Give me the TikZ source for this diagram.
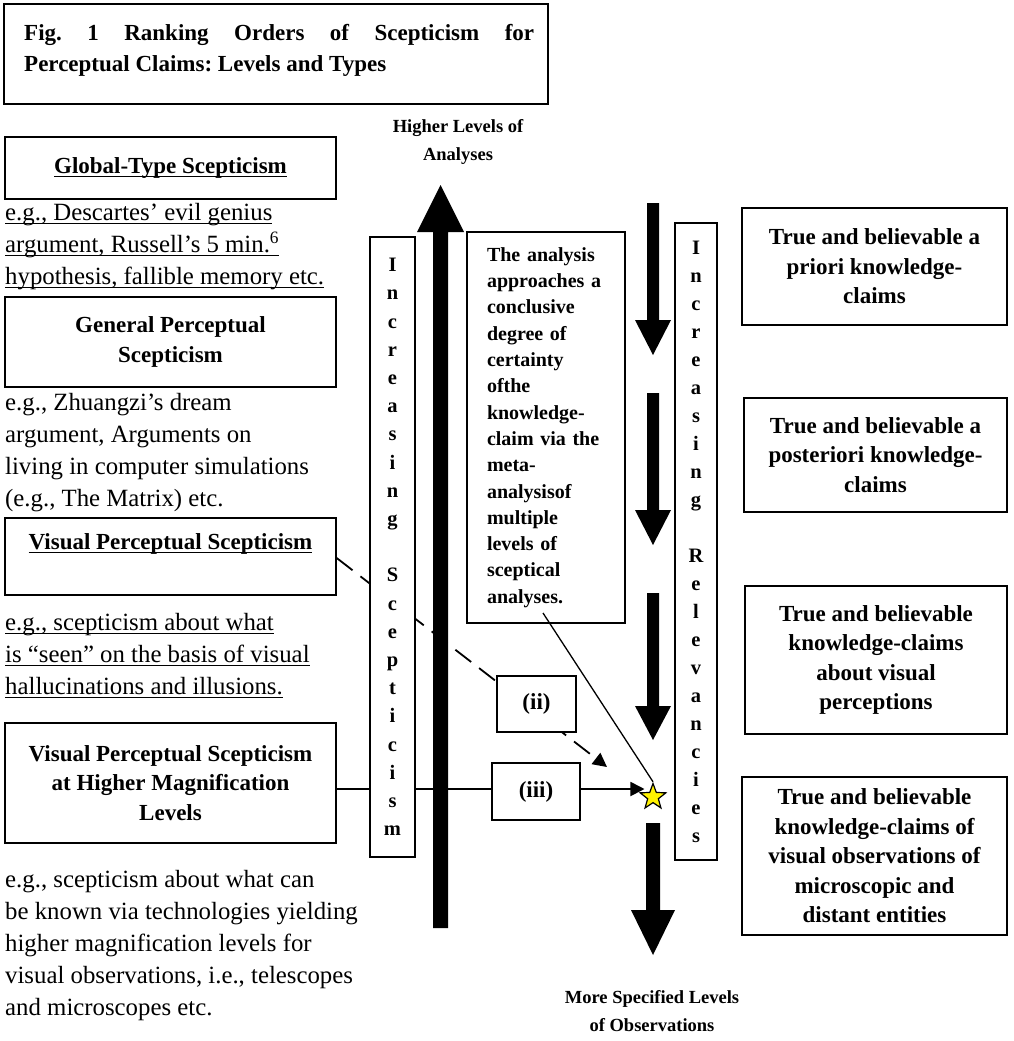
\documentclass[tikz,border=0pt]{standalone}
\usepackage{fontspec}
\setmainfont{Liberation Serif}
\usetikzlibrary{arrows.meta,shapes.geometric}
\pgfdeclarelayer{background}
\pgfsetlayers{background,main}
\frenchspacing
\newsavebox\ulbox
\newcommand\uln[1]{\sbox\ulbox{#1}\rlap{\rule[-3.5pt]{\wd\ulbox}{1.1pt}}\usebox\ulbox}
\newcommand\jl[2]{\makebox[#1][s]{#2}}
\tikzset{
  box/.style={draw, line width=1.4pt, fill=white, inner sep=0pt, rectangle},
  bt/.style={font=\fontsize{23}{29.5}\selectfont\bfseries, align=center},
  eg/.style={anchor=north west, inner sep=0pt, align=left, font=\fontsize{24.8}{32}\selectfont},
  vlet/.style={font=\fontsize{20.5}{28.2}\selectfont\bfseries, align=center},
  lab/.style={font=\fontsize{18.5}{28}\selectfont\bfseries, align=center, inner sep=0pt},
  conn/.style={line width=1.8pt},
  dashconn/.style={line width=1.8pt, dash pattern=on 20pt off 10pt},
  tip/.style={-{Triangle[length=14pt,width=14pt]}},
  blockarrow/.style={fill=black}
}
\begin{document}
\begin{tikzpicture}[x=1pt,y=-1pt]
\useasboundingbox (0,0) rectangle (1014,1041);
% title
\node[box, minimum width=544pt, minimum height=100pt] (title) at (276,54) {};
\node[anchor=north west, inner sep=0pt, align=left, font=\fontsize{23}{31}\selectfont\bfseries] (titletext) at (24,18.3)
  {\strut\jl{510pt}{Fig. 1 Ranking Orders of Scepticism for}\\Perceptual Claims: Levels and Types};
% top / bottom labels
\node[lab] (higher) at (458,142) {Higher Levels of\\Analyses};
\node[lab] (more) at (652,1011) {More Specified Levels\\of Observations};
% left column
\node[box, bt, minimum width=331pt, minimum height=62pt] (glob) at (170.5,168) {\uln{Global-Type Scepticism}};
\node[eg] (globeg) at (5,197.6) {\strut\uln{e.g., Descartes’ evil genius}\\\uln{argument, Russell’s 5 min.\textsuperscript{6}}\\\uln{hypothesis, fallible memory etc.}};
\node[box, bt, minimum width=331pt, minimum height=90pt] (gen) at (170.5,342) {General Perceptual\\Scepticism};
\node[eg] (geneg) at (5,387.6) {\strut e.g., Zhuangzi’s dream\\argument, Arguments on\\living in computer simulations\\(e.g., The Matrix) etc.};
\node[box, bt, minimum width=331pt, minimum height=77pt] (vis) at (170.5,556.5) {\uln{Visual Perceptual Scepticism}\\\mbox{}};
\node[eg] (viseg) at (5,607.6) {\strut\uln{e.g., scepticism about what}\\\uln{is “seen” on the basis of visual}\\\uln{hallucinations and illusions.}};
\node[box, bt, minimum width=331pt, minimum height=120pt] (hm) at (170.5,783) {Visual Perceptual Scepticism\\at Higher Magnification\\Levels};
\node[eg] (hmeg) at (5,864.6) {\strut e.g., scepticism about what can\\be known via technologies yielding\\higher magnification levels for\\visual observations, i.e., telescopes\\and microscopes etc.};
% middle column
\node[box, vlet, minimum width=45pt, minimum height=620pt] (scep) at (392.5,547)
  {I\\n\\c\\r\\e\\a\\s\\i\\n\\g\\\mbox{}\\S\\c\\e\\p\\t\\i\\c\\i\\s\\m};
\node[box, font=\fontsize{20.5}{28}\selectfont\bfseries, align=center, minimum width=42pt, minimum height=637pt] (relv) at (696,541.5)
  {\fontsize{20.5}{27.9}\selectfont I\\n\\c\\r\\e\\a\\s\\i\\n\\g\\\mbox{}\\R\\e\\l\\e\\v\\a\\n\\c\\i\\e\\s};
\node[box, font=\fontsize{20}{26.3}\selectfont\bfseries, align=left, text width=118pt, minimum width=158pt, minimum height=391pt] (ana) at (546,427.5)
  {\jl{118pt}{The analysis}\\\jl{118pt}{approaches a}\\conclusive\\\jl{118pt}{degree of}\\certainty\\ofthe\\knowledge-\\\jl{118pt}{claim via the}\\meta-\\analysisof\\multiple\\\jl{118pt}{levels of}\\sceptical\\analyses.};
\node[box, bt, minimum width=79pt, minimum height=56pt] (ii) at (536.5,704) {(ii)};
\node[box, bt, minimum width=88pt, minimum height=57pt] (iii) at (536,791.5) {(iii)};
\node[star, star points=5, star point ratio=2.4, draw, fill=yellow, line width=1.2pt, minimum size=27pt, inner sep=0pt] (star) at (653,797) {};
% right column
\node[box, bt, minimum width=265pt, minimum height=117pt] (r1) at (874.5,266.5) {True and believable a\\priori knowledge-\\claims};
\node[box, bt, minimum width=263pt, minimum height=114pt] (r2) at (875.5,455) {True and believable a\\posteriori knowledge-\\claims};
\node[box, bt, minimum width=262pt, minimum height=148pt] (r3) at (876,660) {True and believable\\knowledge-claims\\about visual\\perceptions};
\node[box, bt, minimum width=265pt, minimum height=158pt] (r4) at (874.5,856) {True and believable\\knowledge-claims of\\visual observations of\\microscopic and\\distant entities};
% block arrows
\fill[blockarrow] (433,928) -- (433,232) -- (417,232) -- (440.5,185) -- (464,232) -- (448,232) -- (448,928) -- cycle;
\fill[blockarrow] (647,203) -- (659,203) -- (659,320) -- (671,320) -- (653,355) -- (635,320) -- (647,320) -- cycle;
\fill[blockarrow] (647,393) -- (659,393) -- (659,510) -- (671,510) -- (653,545) -- (635,510) -- (647,510) -- cycle;
\fill[blockarrow] (647,593) -- (659,593) -- (659,706) -- (671,706) -- (653,740) -- (635,706) -- (647,706) -- cycle;
\fill[blockarrow] (646,823) -- (660,823) -- (660,910) -- (675,910) -- (653,955) -- (631,910) -- (646,910) -- cycle;
% connectors
\coordinate (hl) at (0,789);
\coordinate (dstart) at (0,558);
\coordinate (dashend) at (607,767);
\coordinate (anstart) at (543,613);
\begin{pgfonlayer}{background}
\draw[conn] (hm.east |- hl) -- (iii.west |- hl);
\draw[conn, tip] (iii.east |- hl) -- (star.west |- hl);
\draw[dashconn, tip] (vis.east |- dstart) -- (dashend);
\end{pgfonlayer}
\draw[line width=1.3pt] (anstart) -- (star.north);
\end{tikzpicture}
\end{document}
